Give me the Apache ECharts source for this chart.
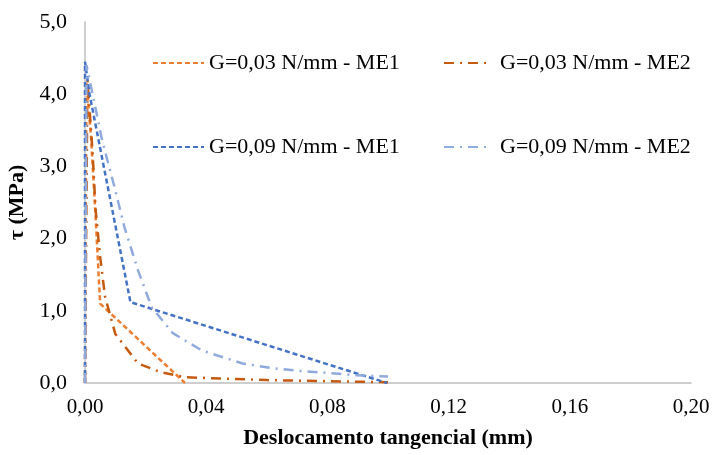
<!DOCTYPE html>
<html><head><meta charset="utf-8">
<script src="https://cdn.jsdelivr.net/npm/echarts@6/dist/echarts.min.js"></script>
<style>html,body{margin:0;padding:0;background:#fff}#c{width:713px;height:455px}</style>
</head><body><div id="c"></div>
<script>
const names = ['G=0,03 N/mm - ME1','G=0,03 N/mm - ME2','G=0,09 N/mm - ME1','G=0,09 N/mm - ME2'];
const xTicks = [0,0.04,0.08,0.12,0.16,0.20];
const yTicks = [0,1,2,3,4,5];
const s1x = [0,0.0005,0.002,0.0035,0.0045,0.005,0.033];
const s1y = [0,4.15,3.4,2.3,1.5,1.1,0];
const s2x = [0,0.0008,0.0025,0.0035,0.005,0.0066,0.01,0.0175,0.025,0.033,0.06,0.1];
const s2y = [0,4.2,3.2,2.4,1.75,1.2,0.68,0.27,0.15,0.08,0.04,0.01];
const s3x = [0,0,0.0015,0.015,0.0997];
const s3y = [0,4.45,4.0,1.12,0];
const s4x = [0,0.0005,0.003,0.0056,0.01,0.013,0.0175,0.022,0.029,0.0386,0.052,0.061,0.07,0.08,0.0885,0.1];
const s4y = [0,4.4,3.9,3.37,2.67,2.16,1.56,1.05,0.69,0.45,0.27,0.21,0.17,0.14,0.11,0.09];
const colors = ['#ED7D31','#C55A11','#4472C4','#8FAADC'];
const dashes = [[5,3],[10,6,2,6],[5,3],[10,6,2,6]];
const xs=[s1x,s2x,s3x,s4x], ys=[s1y,s2y,s3y,s4y];
const font='Liberation Serif';
const chart = echarts.init(document.getElementById('c'));
const legPos = [[152,52],[443,52],[152,136],[443,136]];
chart.setOption({
  animation:false,
  grid:{left:85,right:22,top:22,bottom:72,containLabel:false,outerBoundsMode:'none'},
  legend: names.map((n,i)=>({data:[n],left:legPos[i][0],top:legPos[i][1],padding:0,
    itemWidth:i%2===0?51:42,itemHeight:20,itemGap:4,
    itemStyle:{opacity:0},
    textStyle:{fontFamily:font,fontSize:22,color:'#000',padding:[0,0,0,i%2===0?0:9]}})),
  xAxis:{type:'value',min:0,max:0.2,interval:0.04,
    axisLine:{lineStyle:{color:'#BFBFBF',width:1.5}},axisTick:{show:false},splitLine:{show:false},
    axisLabel:{fontFamily:font,fontSize:21,color:'#000',margin:14,formatter:v=>v.toFixed(2).replace('.',',')},
    name:'Deslocamento tangencial (mm)',nameLocation:'middle',nameGap:44,
    nameTextStyle:{fontFamily:font,fontSize:22,fontWeight:'bold',color:'#000'}},
  yAxis:{type:'value',min:0,max:5,interval:1,
    axisLine:{show:true,lineStyle:{color:'#BFBFBF',width:1.5}},axisTick:{show:false},splitLine:{show:false},
    axisLabel:{fontFamily:font,fontSize:22,color:'#000',margin:18,formatter:v=>v.toFixed(1).replace('.',',')},
    name:'τ (MPa)',nameLocation:'middle',nameGap:51,nameRotate:90,
    nameTextStyle:{fontFamily:font,fontSize:22,fontWeight:'bold',color:'#000'}},
  series: names.map((n,i)=>({name:n,type:'line',showSymbol:false,symbol:'none',
    data:xs[i].map((x,j)=>[x,ys[i][j]]),
    lineStyle:{color:colors[i],width:2.5,type:dashes[i]},itemStyle:{color:colors[i]}}))
});
</script></body></html>
